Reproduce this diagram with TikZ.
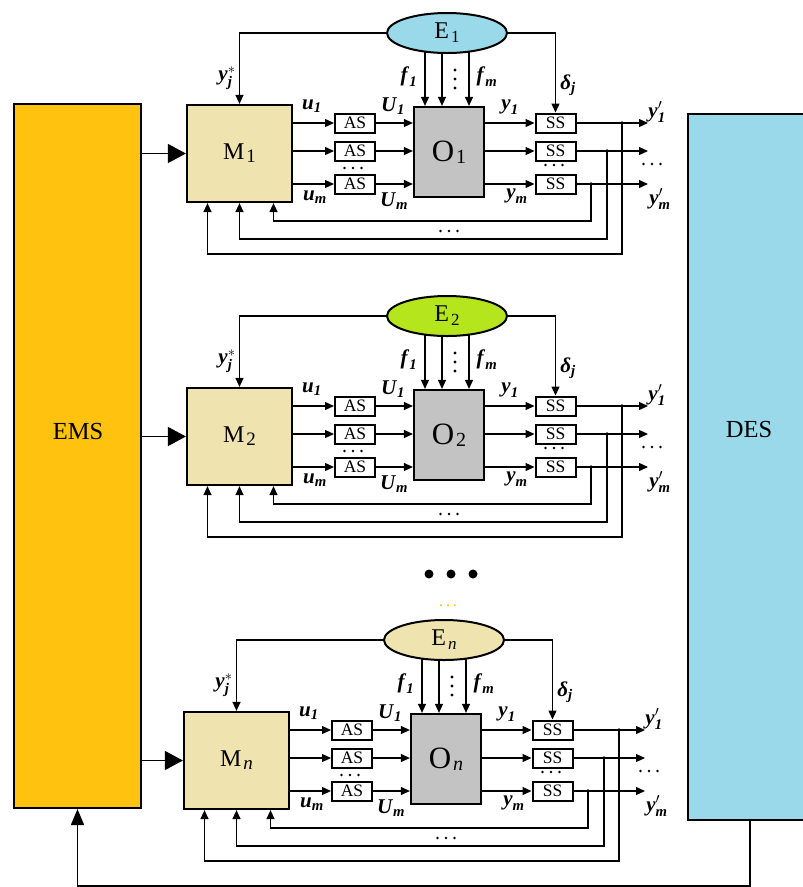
\documentclass[tikz,border=0pt]{standalone}
\usepackage{amsmath}
\usepackage{fontspec}
\setmainfont{Liberation Serif}
\usepackage{tikz}
\usetikzlibrary{arrows.meta,positioning,calc,backgrounds,shapes.geometric}
\definecolor{EmsOrange}{HTML}{FFC20E}
\definecolor{DesBlue}{HTML}{99D9EA}
\definecolor{ModTan}{HTML}{EFE4B0}
\definecolor{ObjGrey}{HTML}{C3C3C3}
\definecolor{EnvGreen}{HTML}{B5E61D}
\definecolor{DotOrange}{HTML}{FFC000}
\newcommand{\bi}[1]{\textbf{\textit{#1}}}
\newcommand{\subname}[4]{#1\hspace{2pt}\raisebox{#3}{\fontsize{#4}{#4}\selectfont #2}}
\tikzset{
  line/.style={line width=1.3pt, -{Triangle[length=9pt,width=8pt]}},
  bigarrow/.style={line width=1.5pt, -{Triangle[length=18pt,width=19pt]}},
  mbox/.style={draw, line width=2.2pt, fill=ModTan, minimum width=105pt,
    minimum height=97pt, inner sep=0pt, font=\fontsize{24}{24}\selectfont},
  obox/.style={draw, line width=2.2pt, fill=ObjGrey, minimum width=70pt,
    minimum height=90pt, inner sep=0pt, font=\fontsize{31}{31}\selectfont},
  envell/.style={ellipse, draw, line width=2pt, minimum width=120pt,
    minimum height=40pt, inner sep=0pt, font=\fontsize{24}{24}\selectfont},
  sbox/.style={draw, line width=2pt, fill=white, minimum width=40pt,
    minimum height=19pt, inner sep=0pt, font=\fontsize{17.5}{17.5}\selectfont},
  sig/.style={font=\fontsize{21}{21}\selectfont}
}
\begin{document}
\begin{tikzpicture}[x=1pt,y=-1pt]
    \useasboundingbox (0,0) rectangle (803,887);
    \node[draw, line width=2pt, fill=EmsOrange, minimum width=127pt, minimum height=704pt] (EMS) at (77.5,456) {};
    \node[draw, line width=2pt, fill=DesBlue, minimum width=124pt, minimum height=706pt] (DES) at (750,467) {};
    \node[font=\fontsize{24.5}{24.5}\selectfont] at (78,432) {EMS};
    \node[font=\fontsize{24.5}{24.5}\selectfont] at (749,430) {DES};

    \foreach \k/\dx/\dy/\sub/\ecol in {1/0/0/1/DesBlue, 2/0/283/2/EnvGreen, n/-3/607/\textit{n}/ModTan} {
      \begin{scope}[shift={(\dx,\dy)}]
        \node[mbox] (M\k) at (239.5,153.5) {\subname{M}{\sub}{-3pt}{19}};
        \node[obox] (O\k) at (449,152) {\subname{O}{\sub}{-2pt}{20}};
        \node[envell, fill=\ecol] (E\k) at (447,33) {\subname{E}{\sub}{-4pt}{17}};
        \foreach \r/\ry/\jx in {1/123/622, 2/151/607, m/184/591} {
          \node[sbox] (as\k-\r) at (355,\ry) {AS};
          \node[sbox] (ss\k-\r) at (555.5,\ry) {SS};
          \coordinate (out\k-\r) at (648,\ry);
          \coordinate (jn\k-\r) at (\jx,\ry);
          \draw[line] (M\k.east |- as\k-\r) -- (as\k-\r.west);
          \draw[line] (as\k-\r.east) -- (O\k.west |- as\k-\r);
          \draw[line] (O\k.east |- ss\k-\r) -- (ss\k-\r.west);
          \draw[line] (ss\k-\r.east) -- (out\k-\r);
          \fill (jn\k-\r) circle (1.8pt);
        }
        \begin{scope}[on background layer]
          \foreach \fx in {-22,-5,22}
            \draw[line] ([xshift=\fx pt]E\k.center) -- ([xshift=\fx pt]E\k.center |- O\k.north);
        \end{scope}
        \foreach \vy in {70,79,88}
          \fill (455,\vy) circle (1.6pt);
        \foreach \cx/\cy in {353/168, 554/165, 652/164, 449/231}
          \foreach \gx in {-8.5,0,8.5}
            \fill (\cx+\gx,\cy) circle (1.3pt);
        \draw[line] (E\k.west) -| (M\k.north);
        \draw[line] (E\k.east) -| (ss\k-1.north);
        \draw[line] (jn\k-m) -- ++(0,37) -| ([xshift=34pt]M\k.south);
        \draw[line] (jn\k-2) -- ++(0,88) -| (M\k.south);
        \draw[line] (jn\k-1) -- ++(0,131) -| ([xshift=-32pt]M\k.south);
        \draw[bigarrow] (EMS.east |- M\k.west) -- (M\k.west);

        \node[sig] at (227,78) {$\bi{y}_{\bi{j}}^{*}$};
        \node[sig] at (409,77) {$\bi{f}_{\bi{1}}$};
        \node[sig] at (487,77) {$\bi{f}_{\bi{m}}$};
        \node[sig] at (568,85) {$\bi{δ}_{\bi{j}}$};
        \node[sig] at (312,106) {$\bi{u}_{\bi{1}}$};
        \node[sig] at (315,197) {$\bi{u}_{\bi{m}}$};
        \node[sig] at (393,106) {$\bi{U}_{\bi{1}}$};
        \node[sig] at (394,201) {$\bi{U}_{\bi{m}}$};
        \node[sig] at (510,107) {$\bi{y}_{\bi{1}}$};
        \node[sig] at (517,196) {$\bi{y}_{\bi{m}}$};
        \node[sig] at (657,112) {$\bi{y}'_{\bi{1}}$};
        \node[sig] at (660,199) {$\bi{y}'_{\bi{m}}$};
      \end{scope}
    }

    \draw[line width=1.5pt, -{Triangle[length=16pt,width=13pt]}] (DES.south) -- ++(0,65) -| (EMS.south);
    \foreach \bx in {429,451,473}
      \fill (\bx,574) circle (4.5pt);
    \node[text=DotOrange, font=\fontsize{12}{12}\selectfont\bfseries] at (448,606) {. . .};
  \end{tikzpicture}
\end{document}
